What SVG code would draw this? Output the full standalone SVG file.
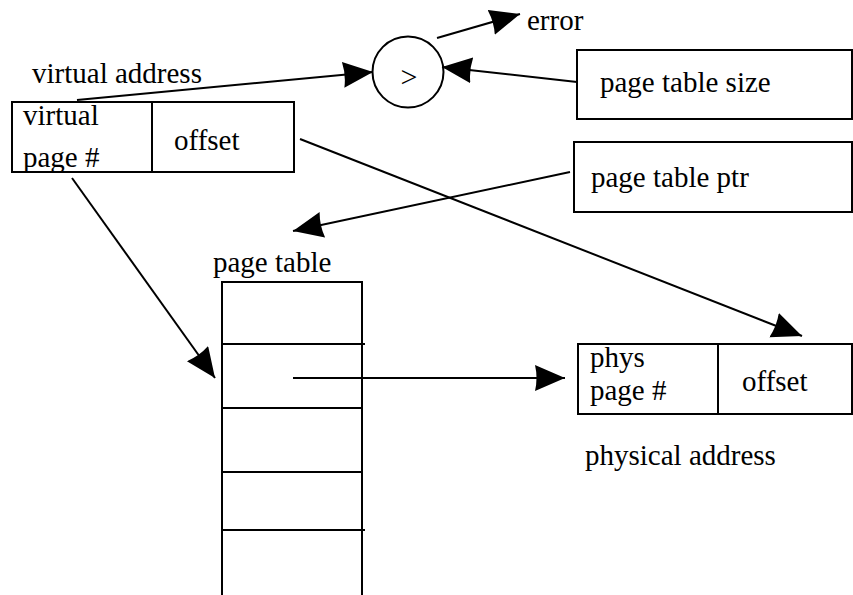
<svg xmlns="http://www.w3.org/2000/svg" width="853" height="595" viewBox="0 0 853 595">
<style>
.t{font-family:"Liberation Serif","Times New Roman",serif;font-size:29px;fill:#000}
.s{fill:none;stroke:#000;stroke-width:2}
.c{fill:none;stroke:#000;stroke-width:2;marker-end:url(#ah)}
</style>
<defs>
<marker id="ah" markerWidth="32" markerHeight="28" refX="30" refY="13" orient="auto" markerUnits="userSpaceOnUse">
<path d="M0,0 L30,13 L0,26 Q3,13 0,0 Z" fill="#000"/>
</marker>
</defs>
<rect width="853" height="595" fill="#fff"/>
<g id="virtual-address">
<text class="t" x="32" y="83">virtual address</text>
<rect class="s" x="12" y="102" width="282" height="70"/>
<line class="s" x1="152" y1="102" x2="152" y2="172"/>
<text class="t" x="23" y="125">virtual</text>
<text class="t" x="23" y="167">page #</text>
<text class="t" x="174" y="150">offset</text>
</g>
<g id="compare">
<circle class="s" cx="408" cy="72" r="35.5"/>
<text class="t" x="409" y="87" text-anchor="middle" style="font-size:30px">&gt;</text>
</g>
<g id="error">
<text class="t" x="527" y="30">error</text>
</g>
<g id="page-table-size">
<rect class="s" x="577" y="50" width="275" height="69"/>
<text class="t" x="600" y="92">page table size</text>
</g>
<g id="page-table-ptr">
<rect class="s" x="574" y="142" width="278" height="70"/>
<text class="t" x="591" y="187">page table ptr</text>
</g>
<g id="page-table">
<text class="t" x="213" y="272">page table</text>
<polyline class="s" points="222,595 222,282 362,282 362,595"/>
<line class="s" x1="222" y1="344" x2="365" y2="344"/>
<line class="s" x1="222" y1="408" x2="362" y2="408"/>
<line class="s" x1="222" y1="472" x2="362" y2="472"/>
<line class="s" x1="222" y1="530" x2="365" y2="530"/>
</g>
<g id="physical-address">
<rect class="s" x="578" y="344" width="274" height="70"/>
<line class="s" x1="718" y1="344" x2="718" y2="414"/>
<text class="t" x="590" y="367">phys</text>
<text class="t" x="590" y="400">page #</text>
<text class="t" x="742" y="391">offset</text>
<text class="t" x="585" y="465">physical address</text>
</g>
<g id="connectors">
<line class="c" x1="77" y1="100" x2="373" y2="72"/>
<line class="c" x1="437" y1="38" x2="520" y2="14"/>
<line class="c" x1="577" y1="82" x2="442" y2="67"/>
<line class="c" x1="570" y1="172" x2="293" y2="231"/>
<line class="c" x1="300" y1="139" x2="802" y2="336"/>
<line class="c" x1="72" y1="178" x2="215" y2="378"/>
<line class="c" x1="293" y1="378" x2="565" y2="378"/>
</g>
</svg>
